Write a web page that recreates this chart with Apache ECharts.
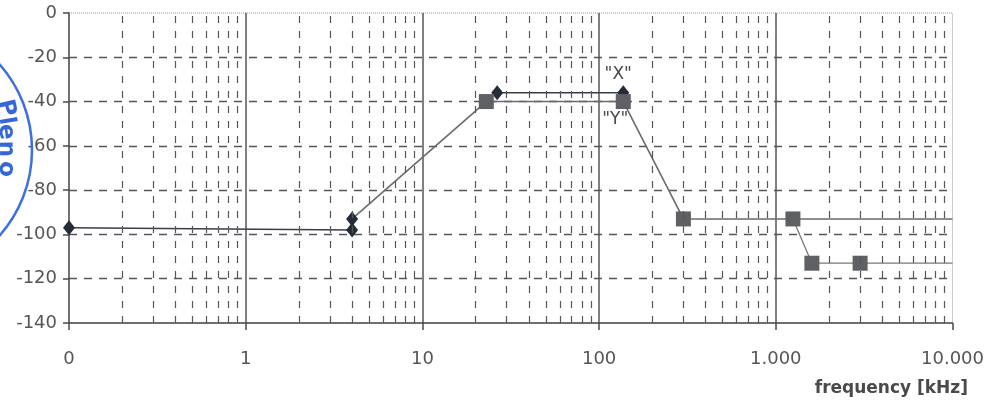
<!DOCTYPE html>
<html>
<head>
<meta charset="utf-8">
<script src="https://cdn.jsdelivr.net/npm/echarts@6/dist/echarts.min.js"></script>
<style>
  html, body { margin: 0; padding: 0; background: #fff; }
  #main { width: 987px; height: 403px; }
</style>
</head>
<body>
<div id="main"></div>
<script>
// frequency in kHz (log axis), level in dB
const xTickLabels = ['0', '1', '10', '100', '1.000', '10.000'];
const decades = [0.1, 1, 10, 100, 1000];
const minorSteps = [2, 3, 4, 5, 6, 7, 8, 9];

// "X" curve - dark diamonds
const xLowFreq = [0.1, 4, 4];
const xLowLevel = [-97, -98, -93];
const xTopFreq = [26.5, 137];
const xTopLevel = [-36, -36];

// "Y" curve - grey squares
const yFreq = [4, 23, 137, 300, 10000];
const yLevel = [-93, -40, -40, -93, -93];
const yMarked = [false, true, true, true, false];
const tailFreq = [1250, 1600, 3000, 10000];
const tailLevel = [-93, -113, -113, -113];
const tailMarked = [true, true, true, false];

const darkCol = '#262b3a';
const greyCol = '#5f6063';
const textCol = '#555';
const labelFont = 'DejaVu Sans';

function pairs(xs, ys) {
  return xs.map((x, i) => [x, ys[i]]);
}

// minor (dashed) vertical grid lines through the log scale
const minorGrid = [];
decades.forEach(d => minorSteps.forEach(s => minorGrid.push({ xAxis: +(d * s).toPrecision(3) })));

// stamp letters on the left edge
const stampLetters = ['P', 'l', 'e', 'n', 'o'];
const stampY = [108, 121, 132, 149, 169];

var chartDom = document.getElementById('main');
var myChart = echarts.init(chartDom);

const option = {
  animation: false,
  grid: {
    left: 69, right: 33, top: 13, bottom: 80,
    show: true,
    borderColor: '#9a9a9a',
    borderWidth: 1,
    borderType: 'dotted'
  },
  xAxis: {
    type: 'log',
    logBase: 10,
    min: 0.1,
    max: 10000,
    axisLine: { show: true, onZero: false, lineStyle: { color: '#4a4a4f', width: 1.5 } },
    axisTick: { show: true, inside: false, length: 7, lineStyle: { color: '#4a4a4f', width: 1.5 } },
    axisLabel: {
      margin: 27,
      fontFamily: labelFont,
      fontSize: 18,
      color: textCol,
      formatter: v => xTickLabels[Math.round(Math.log10(v)) + 1]
    },
    splitLine: {
      show: true,
      showMinLine: false,
      showMaxLine: false,
      lineStyle: { color: '#55565b', width: 1.5, type: 'solid' }
    },
    minorTick: { show: false },
    minorSplitLine: { show: false }
  },
  yAxis: {
    type: 'value',
    min: -140,
    max: 0,
    interval: 20,
    axisLine: { show: true, onZero: false, lineStyle: { color: '#4a4a4f', width: 1.5 } },
    axisTick: { show: true, length: 6, lineStyle: { color: '#4a4a4f', width: 1.5 } },
    axisLabel: {
      margin: 12,
      fontFamily: labelFont,
      fontSize: 18,
      color: textCol
    },
    splitLine: {
      show: true,
      showMinLine: false,
      showMaxLine: false,
      lineStyle: { color: '#55565b', width: 1.3, type: [8, 7] }
    }
  },
  series: [
    {
      // minor grid carrier
      type: 'line',
      data: [],
      z: 1,
      silent: true,
      markLine: {
        silent: true,
        symbol: 'none',
        label: { show: false },
        lineStyle: { color: '#55565b', width: 1.2, type: [7, 8] },
        data: minorGrid
      }
    },
    {
      name: 'Y',
      type: 'line',
      clip: false,
      data: pairs(yFreq, yLevel),
      symbol: (v, p) => (yMarked[p.dataIndex] ? 'rect' : 'none'),
      symbolSize: 15,
      itemStyle: { color: greyCol },
      lineStyle: { color: '#6a6b6e', width: 1.6 },
      label: {
        show: true,
        position: 'bottom',
        distance: 2,
        offset: [-8, 0],
        fontFamily: labelFont,
        fontSize: 17,
        color: '#4a4a4a',
        formatter: p => (p.dataIndex === 2 ? '"Y"' : '')
      },
      z: 3
    },
    {
      name: 'Y',
      type: 'line',
      clip: false,
      data: pairs(tailFreq, tailLevel),
      symbol: (v, p) => (tailMarked[p.dataIndex] ? 'rect' : 'none'),
      symbolSize: 15,
      itemStyle: { color: greyCol },
      lineStyle: { color: '#77787b', width: 1.3 },
      z: 3
    },
    {
      name: 'X',
      type: 'line',
      clip: false,
      data: pairs(xLowFreq, xLowLevel),
      symbol: 'diamond',
      symbolSize: [12, 15],
      itemStyle: { color: darkCol },
      lineStyle: { color: '#3a3e4a', width: 1.6 },
      z: 4
    },
    {
      name: 'X',
      type: 'line',
      clip: false,
      data: pairs(xTopFreq, xTopLevel),
      symbol: 'diamond',
      symbolSize: [12, 15],
      itemStyle: { color: darkCol },
      lineStyle: { color: '#3a3e4a', width: 1.6 },
      label: {
        show: true,
        position: 'top',
        distance: 2,
        offset: [-5, 0],
        fontFamily: labelFont,
        fontSize: 17,
        color: '#4a4a4a',
        formatter: p => (p.dataIndex === 1 ? '"X"' : '')
      },
      z: 2
    }
  ],
  graphic: [
    {
      type: 'text',
      right: 19,
      top: 380,
      style: {
        text: 'frequency [kHz]',
        font: 'bold 17px "DejaVu Sans"',
        fill: '#4a4a4a'
      }
    },
    {
      type: 'circle',
      shape: { cx: -97, cy: 150, r: 129 },
      style: { fill: 'none', stroke: '#3d6fe0', lineWidth: 2.5 },
      z: 10
    }
  ].concat(stampLetters.map((ch, i) => ({
    type: 'text',
    x: 6,
    y: stampY[i],
    rotation: -Math.PI / 2 + 0.6 * Math.atan2(150 - stampY[i], 103),
    z: 10,
    style: {
      text: ch,
      font: 'bold 23px "DejaVu Sans"',
      fill: '#3567d8',
      align: 'center',
      verticalAlign: 'middle'
    }
  })))
};

myChart.setOption(option);
</script>
</body>
</html>
